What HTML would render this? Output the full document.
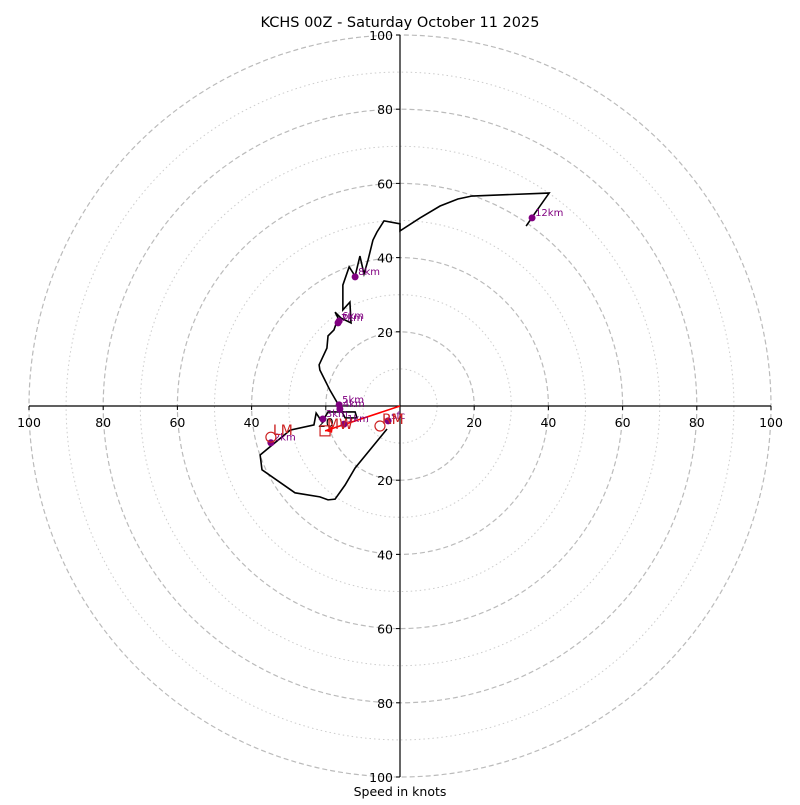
<!DOCTYPE html>
<html><head><meta charset="utf-8"><style>
body{margin:0;background:#fff}
svg text{font-family:"DejaVu Sans","Liberation Sans",sans-serif}
</style></head><body>
<svg id="chart" width="800" height="800" viewBox="0 0 800 800" xmlns="http://www.w3.org/2000/svg">
<rect width="800" height="800" fill="#fff"/>
<text x="400" y="27" text-anchor="middle" font-size="14.5">KCHS 00Z - Saturday October 11 2025</text>
<text x="400" y="796" text-anchor="middle" font-size="12.5">Speed in knots</text>
<g id="rings"></g><g id="axes"></g><g id="trace"></g><g id="marks"></g>
</svg>
<script>
const ringValues=[10,20,30,40,50,60,70,80,90,100];
const tickValues=[20,40,60,80,100];
const traceU=[-3.5,-12.1,-14.8,-17.5,-19.4,-21.6,-28.3,-37.2,-37.7,-29.6,-23.2,-22.6,-21.0,-19.4,-12.1,-11.6,-14.8,-16.7,-18.9,-21.6,-21.8,-19.7,-19.4,-17.8,-16.7,-17.5,-15.9,-13.2,-13.5,-15.4,-15.4,-13.7,-12.1,-10.8,-9.7,-8.6,-7.3,-6.2,-4.3,0,0,5.4,10.8,15.6,19.4,40.2,36.4,34.0];
const traceV=[-6.2,-16.7,-21.3,-25.1,-25.3,-24.5,-23.4,-17.2,-13.2,-6.5,-5.1,-1.9,-4.3,-1.6,-1.6,-3.2,-3.2,0.5,4.3,9.7,11.1,15.6,18.9,20.5,23.7,25.3,23.7,22.4,28.0,25.9,32.6,37.5,35.0,40.4,35.6,39.4,44.7,46.9,49.9,49.1,47.2,50.7,53.9,55.8,56.6,57.4,52.0,48.5];
const heightLabels=["sfc","1km","2km","3km","4km","5km","6km","7km","8km","12km"];
const heightU=[-3.2,-15.1,-34.8,-20.8,-16.2,-16.4,-16.4,-16.7,-12.1,35.6];
const heightV=[-4.0,-4.9,-9.9,-3.5,-0.8,0.3,22.9,22.4,34.8,50.7];
const motionLabels=["RM","LM","MW"];
const motionU=[-5.4,-34.8,-20.2];
const motionV=[-5.4,-8.4,-6.7];

const cx=400,cy=406,sc=3.71;
const X=u=>cx+u*sc, Y=v=>cy-v*sc;
const NS="http://www.w3.org/2000/svg";
function mk(tag,parent,attrs){const e=document.createElementNS(NS,tag);for(const k in attrs)e.setAttribute(k,attrs[k]);document.getElementById(parent).appendChild(e);return e;}

ringValues.forEach(r=>{
  const c=mk('circle','rings',{cx:cx,cy:cy,r:r*sc,fill:'none',stroke:r%20===0?'#bbb':'#ccc','stroke-width':r%20===0?1.2:1,'stroke-dasharray':r%20===0?'5,3':'1.5,3'});
  
  
});
const xa=mk('line','axes',{x1:X(-100),y1:cy,x2:X(100),y2:cy,stroke:'#000','stroke-width':1.2});


const ya=mk('line','axes',{x1:cx,y1:Y(100),x2:cx,y2:Y(-100),stroke:'#000','stroke-width':1.2});


tickValues.forEach(t=>{
  [-1,1].forEach(s=>{
    mk('line','axes',{x1:X(s*t),y1:cy,x2:X(s*t),y2:cy+4,stroke:'#000'});
    const tx=mk('text','axes',{x:X(s*t),y:cy+21,'text-anchor':'middle','font-size':12.5});
    tx.textContent=t;
    
    
    mk('line','axes',{x1:cx-4,y1:Y(s*t),x2:cx,y2:Y(s*t),stroke:'#000'});
    const ty=mk('text','axes',{x:cx-7,y:Y(s*t)+5,'text-anchor':'end','font-size':12.5});
    ty.textContent=t;
    
    
  });
});
const pl=mk('polyline','trace',{points:traceU.map((u,i)=>X(u)+','+Y(traceV[i])).join(' '),fill:'none',stroke:'#000','stroke-width':1.6,'stroke-linejoin':'miter'});



const mw=mk('line','marks',{x1:cx,y1:cy,x2:X(motionU[2]),y2:Y(motionV[2]),stroke:'red','stroke-width':1.6});


const ah=mk('polygon','marks',{points:`${X(motionU[2])},${Y(motionV[2])} ${X(motionU[2])+8},${Y(motionV[2])-5} ${X(motionU[2])+7},${Y(motionV[2])+2}`,fill:'red'});



heightLabels.forEach((l,i)=>{
  const c=mk('circle','marks',{cx:X(heightU[i]),cy:Y(heightV[i]),r:3.5,fill:'purple'});
  
  
  const t=mk('text','marks',{x:X(heightU[i])+3,y:Y(heightV[i])-2,'font-size':10,fill:'purple'});
  t.textContent=l;
  
  
});
motionLabels.forEach((l,i)=>{
  const x=X(motionU[i]),y=Y(motionV[i]);
  let m;
  if(l==='MW') m=mk('rect','marks',{x:x-5,y:y-5,width:10,height:10,fill:'none',stroke:'#c22','stroke-width':1.2});
  else m=mk('circle','marks',{cx:x,cy:y,r:5,fill:'none',stroke:'#c22','stroke-width':1.2});
  
  
  const t=mk('text','marks',{x:x+2,y:y-2,'font-size':14,fill:'#c22'});
  t.textContent=l;
  
  
});
</script>
</body></html>
